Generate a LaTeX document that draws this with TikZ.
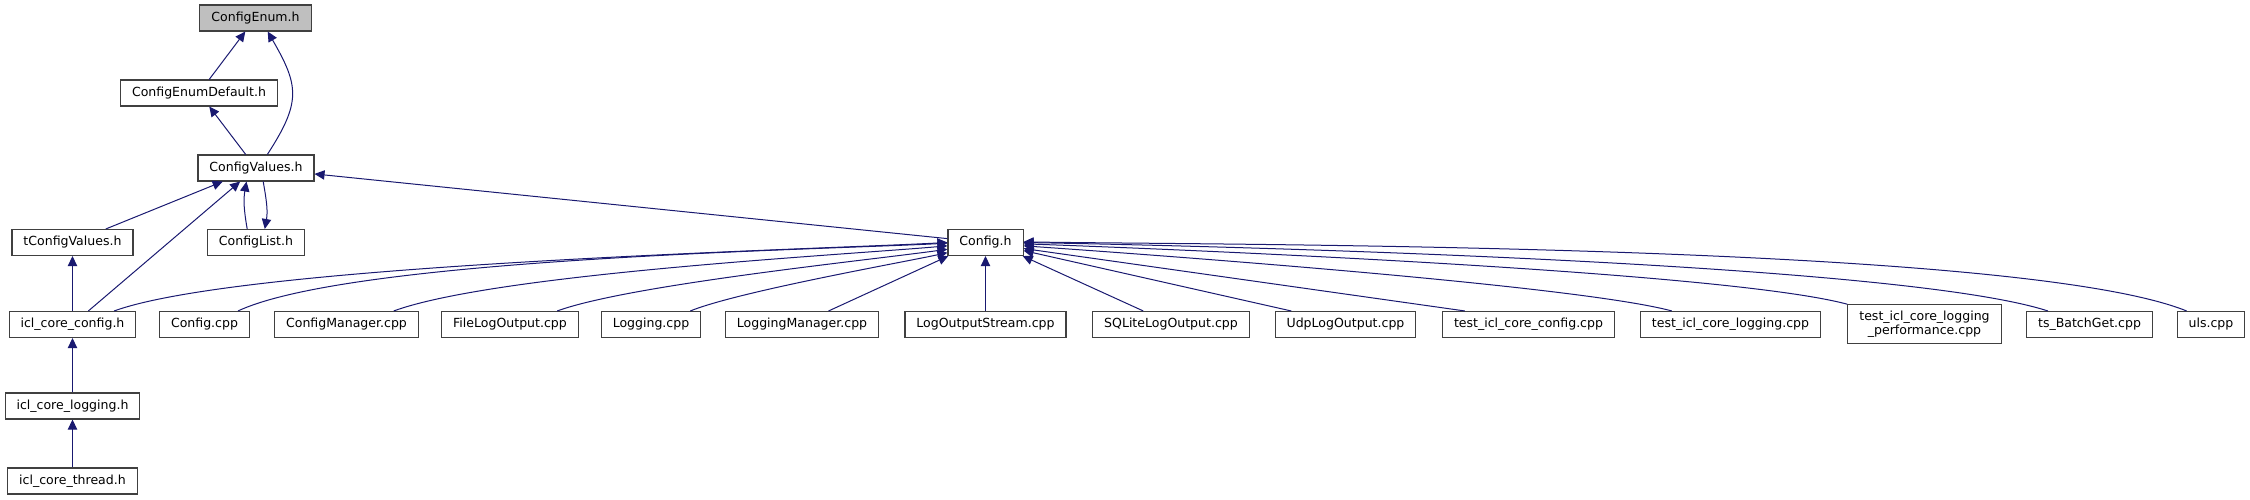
\documentclass[tikz,border=0pt]{standalone}
\usepackage{fontspec}
\setmainfont{DejaVu Sans}
\usetikzlibrary{arrows.meta}
\definecolor{edgeblue}{RGB}{25,25,112}
\definecolor{boxgray}{RGB}{191,191,191}
\definecolor{rimgray}{RGB}{64,64,64}
\begin{document}
\begin{tikzpicture}[x=0.75pt,y=0.75pt,
  hfile/.style={draw=rimgray,line width=0.8pt,fill=white,
    font=\fontsize{9.4}{10.5}\selectfont,align=center,
    inner xsep=8.6pt,inner ysep=4.5pt,minimum height=19.5pt},
  dep/.style={draw=edgeblue,line width=0.75pt,
    -{Triangle[length=7.5pt,width=7pt]}}]
\useasboundingbox (0,0) rectangle (2250,500);
% headers
\node[hfile,fill=boxgray] (cenum) at (255.5,482) {ConfigEnum.h};
\node[hfile] (cedef) at (199,407) {ConfigEnumDefault.h};
\node[hfile] (cval) at (256,332) {ConfigValues.h};
\node[hfile] (tcval) at (72.5,257.5) {tConfigValues.h};
\node[hfile] (clist) at (256,257.5) {ConfigList.h};
\node[hfile] (cfg) at (985.5,257.5) {Config.h};
\node[hfile] (iclcfg) at (72.5,175.5) {icl\_core\_config.h};
\node[hfile] (icllog) at (72.5,94) {icl\_core\_logging.h};
\node[hfile] (iclthread) at (72.5,19) {icl\_core\_thread.h};
% sources
\node[hfile] (cfgcpp) at (204.5,175.5) {Config.cpp};
\node[hfile] (cfgmgr) at (346.5,175.5) {ConfigManager.cpp};
\node[hfile] (filelog) at (510,175.5) {FileLogOutput.cpp};
\node[hfile] (logging) at (651,175.5) {Logging.cpp};
\node[hfile] (logmgr) at (802,175.5) {LoggingManager.cpp};
\node[hfile] (logstream) at (985.5,175.5) {LogOutputStream.cpp};
\node[hfile] (sqlite) at (1171,175.5) {SQLiteLogOutput.cpp};
\node[hfile] (udplog) at (1345.5,175.5) {UdpLogOutput.cpp};
\node[hfile] (testcfg) at (1528.5,175.5) {test\_icl\_core\_config.cpp};
\node[hfile] (testlog) at (1730.5,175.5) {test\_icl\_core\_logging.cpp};
\node[hfile] (testperf) at (1924.5,176) {test\_icl\_core\_logging\\\_performance.cpp};
\node[hfile] (batchget) at (2089.5,175.5) {ts\_BatchGet.cpp};
\node[hfile] (uls) at (2211,175.5) {uls.cpp};
% upper part
\draw[dep] (cedef) -- (cenum);
\draw[dep] (cval.50) to[out=57,in=-60,looseness=1.3] (cenum.-48);
\draw[dep] (cval) -- (cedef);
\draw[dep] (tcval) -- (cval);
\draw[dep] (iclcfg) -- (cval);
\draw[dep] (clist.123) to[out=100,in=-100] (cval.235);
\draw[dep] (cval.-62) to[out=-80,in=80] (clist.57);
\draw[dep] (cfg) -- (cval);
\draw[dep] (iclcfg) -- (tcval);
\draw[dep] (icllog) -- (iclcfg);
\draw[dep] (iclthread) -- (icllog);
% into Config.h from the left
\draw[dep] (iclcfg.18) to[out=20,in=183,looseness=0.42] (cfg.180);
\draw[dep] (cfgcpp.22) to[out=25,in=183,looseness=0.45] (cfg.181);
\draw[dep] (cfgmgr.16) to[out=20,in=185,looseness=0.5] (cfg.185);
\draw[dep] (filelog.16) to[out=20,in=188,looseness=0.5] (cfg.190);
\draw[dep] (logging.19) to[out=22,in=192,looseness=0.5] (cfg.195);
\draw[dep] (logmgr.27) -- (cfg.200);
\draw[dep] (logstream) -- (cfg);
% into Config.h from the right
\draw[dep] (sqlite.154) -- (cfg.-20);
\draw[dep] (udplog.166) -- (cfg.-12);
\draw[dep] (testcfg.168) -- (cfg.-9);
\draw[dep] (testlog.167) to[out=165,in=-4,looseness=0.4] (cfg.-5);
\draw[dep] (testperf.north west) to[out=165,in=-2,looseness=0.4] (cfg.-2);
\draw[dep] (batchget.162) to[out=162,in=-1,looseness=0.4] (cfg.0);
\draw[dep] (uls.151) to[out=158,in=-1,looseness=0.4] (cfg.1);
\end{tikzpicture}
\end{document}
